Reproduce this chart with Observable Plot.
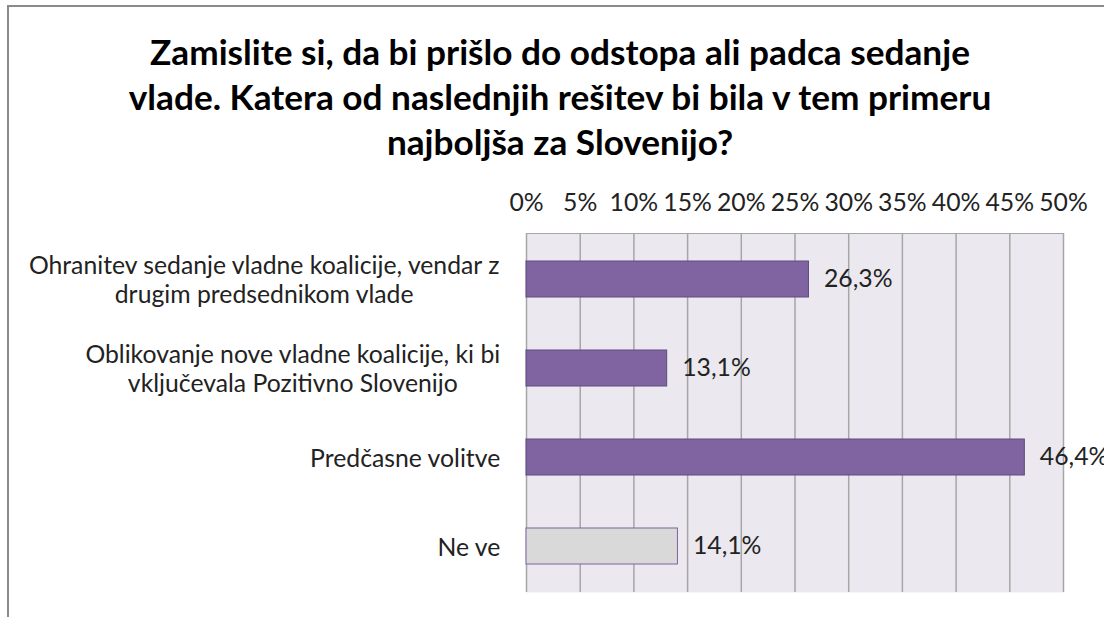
<!DOCTYPE html>
<html><head><meta charset="utf-8">
<script src="https://cdn.jsdelivr.net/npm/d3@7"></script>
<script src="https://cdn.jsdelivr.net/npm/@observablehq/plot@0.6"></script>
<style>
html,body{margin:0;padding:0;background:#fff;}
body{width:1104px;height:617px;overflow:hidden;position:relative;font-family:Lato,"Open Sans",sans-serif;}
#frame{position:absolute;left:7px;top:5px;width:1110px;height:620px;border-left:2px solid #8a8a8a;border-top:2px solid #8a8a8a;}
#title{position:absolute;left:0;width:1120px;top:29px;text-align:center;font-weight:bold;line-height:45px;color:#000;}
#chart{position:absolute;left:0;top:175px;}
</style></head><body>
<div id="frame"></div>
<div id="title"></div>
<div id="chart"></div>
<script>
const titleLines = [
  "Zamislite si, da bi prišlo do odstopa ali padca sedanje",
  "vlade. Katera od naslednjih rešitev bi bila v tem primeru",
  "najboljša za Slovenijo?"
];
const categories = [
  "Ohranitev sedanje vladne koalicije, vendar z\ndrugim predsednikom vlade",
  "Oblikovanje nove vladne koalicije, ki bi\nvključevala Pozitivno Slovenijo",
  "Predčasne volitve",
  "Ne ve"
];
const values = [26.3, 13.1, 46.4, 14.1];
const highlighted = [true, true, true, false];
const tickValues = [0, 5, 10, 15, 20, 25, 30, 35, 40, 45, 50];

// font fitting to the reference text widths
const ctx = document.createElement("canvas").getContext("2d");
ctx.font = "bold 100px Lato";
const titleSize = 100 * 820 / ctx.measureText(titleLines[0]).width;
ctx.font = "100px Lato";
const labelSize = 100 * 473 / ctx.measureText("Ohranitev sedanje vladne koalicije, vendar z").width;

const titleEl = document.getElementById("title");
titleEl.style.fontSize = titleSize + "px";
titleEl.innerHTML = titleLines.map(l => `<div>${l}</div>`).join("");

const data = categories.map((c, i) => ({category: c, value: values[i], main: highlighted[i]}));

ctx.font = labelSize + "px Lato";
const catMarks = categories.map(c => {
  const w = Math.max(...c.split("\n").map(l => ctx.measureText(l).width));
  return Plot.text([c], {
    y: d => d, text: d => d, frameAnchor: "left", textAnchor: "middle",
    dx: -26 - w / 2, lineHeight: 29 / labelSize, fill: "#222"
  });
});

const plot = Plot.plot({
  width: 1104, height: 442,
  marginTop: 58, marginLeft: 526, marginRight: 41, marginBottom: 25,
  style: {fontFamily: "Lato, 'Open Sans', sans-serif", fontSize: labelSize + "px", color: "#222", background: "transparent"},
  x: {domain: [0, 50], axis: "top", ticks: tickValues, tickFormat: d => d + "%", tickSize: 0, tickPadding: 23, label: null},
  y: {domain: categories, paddingInner: 0.6, paddingOuter: 0.3, axis: null},
  marks: [
    Plot.frame({fill: "#EBE9EF", stroke: null}),
    Plot.ruleX(tickValues, {stroke: "#A6A6A6", strokeWidth: 1.5}),
    Plot.frame({anchor: "top", stroke: "#A6A6A6", strokeWidth: 1}),
    Plot.barX(data.filter(d => d.main), {x: "value", y: "category", fill: "#8064A2", stroke: "#5E4A7E", strokeWidth: 1}),
    Plot.barX(data.filter(d => !d.main), {x: "value", y: "category", fill: "#D9D9D9", stroke: "#7F63A1", strokeWidth: 1}),
    Plot.text(data, {x: "value", y: "category", text: d => d.value.toFixed(1).replace(".", ",") + "%", dx: 15, textAnchor: "start", fill: "#222"}),
    ...catMarks
  ]
});
document.getElementById("chart").appendChild(plot);
</script>
</body></html>
